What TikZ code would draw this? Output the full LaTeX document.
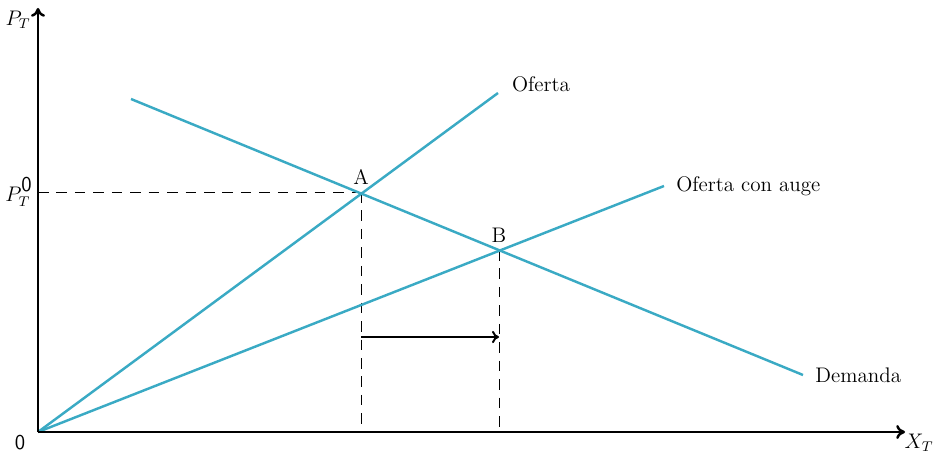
\documentclass[tikz,border=0pt]{standalone}
\usepackage{tikz}
\usetikzlibrary{arrows.meta}
\definecolor{curva}{RGB}{58,170,196}
\tikzset{
  eje/.style={line width=1.4pt,-{To[length=5pt,width=8pt]}},
  curve/.style={curva,line width=1.4pt},
  guia/.style={dashed,dash pattern=on 6pt off 4.5pt,line width=0.5pt},
}
\begin{document}
\begin{tikzpicture}[x=0.02cm,y=0.02cm,font=\large]
  \useasboundingbox (-38,-21) rectangle (897,432);
  \coordinate (O) at (0,0);
  \coordinate (ytop) at (0,424);
  \coordinate (xend) at (867,0);
  \coordinate (A) at (323,240);
  \coordinate (B) at (461,182);
  \coordinate (Aeje) at (0,240);
  \coordinate (Abase) at (323,0);
  \coordinate (Bbase) at (461,0);
  \coordinate (ofin) at (460,339);
  \coordinate (afin) at (626,246);
  \coordinate (dini) at (93,333);
  \coordinate (dfin) at (765,57);
  \coordinate (fini) at (323,95);
  \coordinate (ffin) at (461,95);
    \draw[guia] (Aeje) -- (A);
    \draw[guia] (A) -- (Abase);
    \draw[guia] (B) -- (Bbase);
    \draw[curve] (O) -- (ofin) node[right=4pt,yshift=5pt,black] {Oferta};
    \draw[curve] (O) -- (afin) node[right=3pt,black] {Oferta con auge};
    \draw[curve] (dini) -- (dfin) node[right=3pt,black] {Demanda};
    \draw[eje] (O) -- (ytop);
    \draw[eje] (O) -- (xend);
    \draw[line width=1.1pt,-{To[length=4pt,width=7pt]}] (fini) -- (ffin);
    \node[above=1pt] at (A) {A};
    \node[above=1pt] at (B) {B};
    \node (pt) at (-20,412) {$P_T$};
    \node (pt0) at (-19,240) {$P_{T}^{\raisebox{1pt}{$\mathsf{0}$}}$};
    \node (xt) at (881,-11) {$X_T$};
    \node (cero) at (-18,-11) {\textsf{0}};
\end{tikzpicture}
\end{document}
